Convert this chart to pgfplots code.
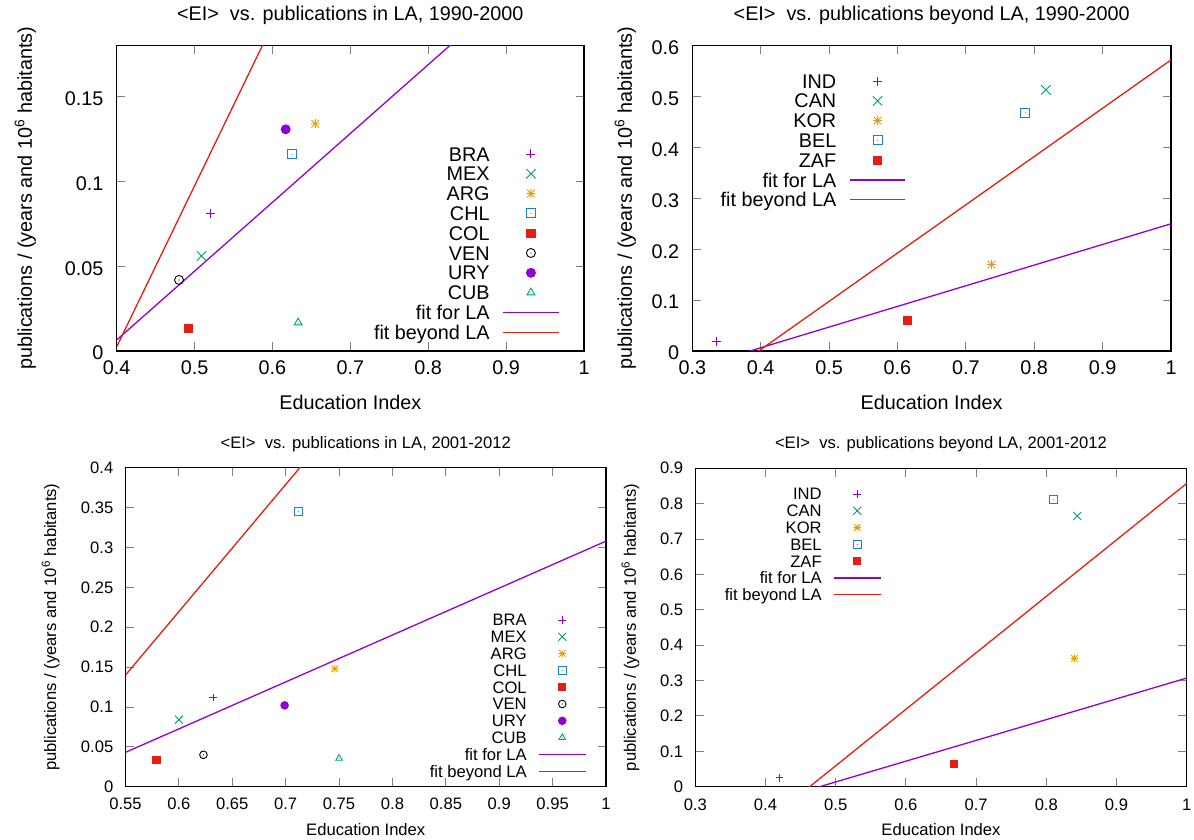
\documentclass[border=0pt]{standalone}
\usepackage{fontspec}
\setmainfont{Liberation Sans}
\usepackage{pgfplots}
\pgfplotsset{compat=1.18}

\definecolor{gpPurple}{HTML}{9400D3}
\definecolor{gpGreen}{HTML}{009E73}
\definecolor{gpOrange}{HTML}{E69F00}
\definecolor{gpBlue}{HTML}{1F7FC4}
\definecolor{gpRed}{HTML}{E51E10}

\newcommand\Ftop{\fontsize{19.8bp}{22bp}\selectfont}
\newcommand\Fbot{\fontsize{16.6bp}{19bp}\selectfont}
% re-synchronise the driver's colour state with the real one
\newcommand\colreset{\begingroup\color{gpRed}\endgroup\begingroup\color{black}\endgroup}

\pgfdeclareplotmark{dsquare}{%
  \pgfpathrectangle{\pgfqpoint{-\pgfplotmarksize}{-\pgfplotmarksize}}{\pgfqpoint{2\pgfplotmarksize}{2\pgfplotmarksize}}%
  \pgfusepathqstroke
  \pgfpathcircle{\pgfpointorigin}{0.6bp}%
  \pgfusepathqfill}
\pgfdeclareplotmark{dcircle}{%
  \pgfpathcircle{\pgfpointorigin}{\pgfplotmarksize}%
  \pgfusepathqstroke
  \pgfpathcircle{\pgfpointorigin}{0.6bp}%
  \pgfusepathqfill}
\pgfdeclareplotmark{dtriangle}{%
  \pgfpathmoveto{\pgfqpoint{0pt}{\pgfplotmarksize}}%
  \pgfpathlineto{\pgfqpoint{-.866\pgfplotmarksize}{-.5\pgfplotmarksize}}%
  \pgfpathlineto{\pgfqpoint{.866\pgfplotmarksize}{-.5\pgfplotmarksize}}%
  \pgfpathclose
  \pgfusepathqstroke
  \pgfpathcircle{\pgfqpoint{0pt}{-.1\pgfplotmarksize}}{0.6bp}%
  \pgfusepathqfill}
\pgfdeclareplotmark{gpx}{%
  \pgfpathmoveto{\pgfqpoint{-1.05\pgfplotmarksize}{-1.05\pgfplotmarksize}}\pgfpathlineto{\pgfqpoint{1.05\pgfplotmarksize}{1.05\pgfplotmarksize}}%
  \pgfpathmoveto{\pgfqpoint{-1.05\pgfplotmarksize}{1.05\pgfplotmarksize}}\pgfpathlineto{\pgfqpoint{1.05\pgfplotmarksize}{-1.05\pgfplotmarksize}}%
  \pgfusepathqstroke}
\pgfdeclareplotmark{gpstar}{%
  \pgfpathmoveto{\pgfqpoint{-\pgfplotmarksize}{0pt}}\pgfpathlineto{\pgfqpoint{\pgfplotmarksize}{0pt}}%
  \pgfpathmoveto{\pgfqpoint{0pt}{-\pgfplotmarksize}}\pgfpathlineto{\pgfqpoint{0pt}{\pgfplotmarksize}}%
  \pgfpathmoveto{\pgfqpoint{-.85\pgfplotmarksize}{-.85\pgfplotmarksize}}\pgfpathlineto{\pgfqpoint{.85\pgfplotmarksize}{.85\pgfplotmarksize}}%
  \pgfpathmoveto{\pgfqpoint{-.85\pgfplotmarksize}{.85\pgfplotmarksize}}\pgfpathlineto{\pgfqpoint{.85\pgfplotmarksize}{-.85\pgfplotmarksize}}%
  \pgfusepathqstroke}

\pgfplotsset{
  gpbase/.style={
    scale only axis,
    axis line style={line width=1.2bp},
    tick style={line width=0.9bp},
    tick align=inside,
    major tick length=8.5bp,
    scaled ticks=false,
    /pgf/number format/fixed,
    /pgf/number format/precision=2,
    /pgf/number format/assume math mode=true,
    legend plot pos=right,
    legend cell align=right,
  },
  gptop/.style={gpbase,
    xticklabel style={font=\Ftop, anchor=base, inner sep=0pt, yshift=-23.3bp},
    yticklabel style={font=\Ftop, anchor=east, inner sep=0pt, xshift=-13bp, yshift=-2bp},
    title style={font=\Ftop, anchor=base, at={(axis description cs:0.5,1.0645)}},
    xlabel style={font=\Ftop, anchor=base, at={(axis description cs:0.5,-0.191)}},
    legend style={font=\Ftop, draw=none, fill=none, inner sep=0pt, outer sep=0pt,
      anchor=north east, column sep=13bp,
      nodes={inner sep=0pt, outer sep=0pt, text height=17bp, text depth=2.8bp}},
    legend image code/.code={\draw[mark repeat=2,mark phase=2,##1] plot coordinates {(0bp,0bp) (27.7bp,0bp) (55.4bp,0bp)};},
    mark size=4.5bp,
  },
  gpbot/.style={gpbase,
    xticklabel style={font=\Fbot, anchor=base, inner sep=0pt, yshift=-23.3bp},
    yticklabel style={font=\Fbot, anchor=east, inner sep=0pt, xshift=-12bp},
    title style={font=\Fbot, anchor=base, at={(axis description cs:0.5,1.0433)}},
    xlabel style={font=\Fbot, anchor=base, at={(axis description cs:0.5,-0.1537)}},
    legend style={font=\Fbot, draw=none, fill=none, inner sep=0pt, outer sep=0pt,
      anchor=north east, column sep=11.2bp,
      nodes={inner sep=0pt, outer sep=0pt, text height=14.35bp, text depth=2.45bp}},
    legend image code/.code={\draw[mark repeat=2,mark phase=2,##1] plot coordinates {(0bp,0bp) (23.75bp,0bp) (47.5bp,0bp)};},
    mark size=3.8bp,
  },
  pA/.style={only marks, mark=+, line width=0.9bp, draw=gpPurple, fill=gpPurple},
  pB/.style={only marks, mark=gpx, line width=0.9bp, draw=gpGreen, fill=gpGreen},
  pC/.style={only marks, mark=gpstar, line width=0.9bp, draw=gpOrange, fill=gpOrange},
  pD/.style={only marks, mark=dsquare, line width=0.9bp, draw=gpBlue, fill=gpBlue},
  pE/.style={only marks, mark=square*, line width=0.9bp, draw=gpRed, fill=gpRed, mark options={scale=0.93}},
  pF/.style={only marks, mark=dcircle, line width=0.9bp, draw=black, fill=black},
  pG/.style={only marks, mark=*, line width=0.9bp, draw=gpPurple, fill=gpPurple},
  pH/.style={only marks, mark=dtriangle, line width=0.9bp, draw=gpGreen, fill=gpGreen},
  fitLA/.style={no marks, line width=1.3bp, draw=gpPurple},
  fitBE/.style={no marks, line width=1.3bp, draw=gpRed},
}

\newcommand\ylab{publications / (years and 10\textsuperscript{6} habitants)}

\begin{document}
\begin{tikzpicture}
\useasboundingbox (0,0) rectangle (1194bp,840bp);

% ---------- top left ----------
\colreset
\begin{axis}[gptop,
  at={(116.7bp,489bp)}, anchor=south west,
  width=467.3bp, height=305.3bp,
  xmin=0.4, xmax=1, ymin=0, ymax=0.18,
  xtick={0.4,0.5,0.6,0.7,0.8,0.9,1},
  ytick={0,0.05,0.1,0.15},
  title={<EI>\ \ vs. publications in LA, 1990-2000},
  xlabel={Education Index},
  ylabel={\ylab},
  ylabel style={font=\Ftop, anchor=base, at={(axis description cs:-0.1817,0.5)}},
  legend style={at={(0.9471,0.6777)}},
]
\addplot[pA] coordinates {(0.521,0.081)}; \addlegendentry{BRA}
\addplot[pB] coordinates {(0.509,0.056)}; \addlegendentry{MEX}
\addplot[pC] coordinates {(0.655,0.134)}; \addlegendentry{ARG}
\addplot[pD] coordinates {(0.625,0.116)}; \addlegendentry{CHL}
\addplot[pE] coordinates {(0.492,0.0134)}; \addlegendentry{COL}
\addplot[pF] coordinates {(0.480,0.0419)}; \addlegendentry{VEN}
\addplot[pG] coordinates {(0.617,0.1307)}; \addlegendentry{URY}
\addplot[pH] coordinates {(0.633,0.0167)}; \addlegendentry{CUB}
\addplot[fitLA] coordinates {(0.4,0.0065) (1,0.25)}; \addlegendentry{fit for LA}
\addplot[fitBE] coordinates {(0.4,0.0025) (1,0.572)}; \addlegendentry{fit beyond LA}
\end{axis}

% ---------- top right ----------
\colreset
\begin{axis}[gptop,
  at={(692.3bp,489bp)}, anchor=south west,
  width=478.7bp, height=305.3bp,
  xmin=0.3, xmax=1, ymin=0, ymax=0.6,
  xtick={0.3,0.4,0.5,0.6,0.7,0.8,0.9,1},
  ytick={0,0.1,0.2,0.3,0.4,0.5,0.6},
  title={<EI>\ \ vs. publications beyond LA, 1990-2000},
  xlabel={Education Index},
  ylabel={\ylab},
  ylabel style={font=\Ftop, anchor=base, at={(axis description cs:-0.1264,0.5)}},
  legend style={at={(0.4464,0.9168)}},
]
\addplot[pA] coordinates {(0.335,0.0196)}; \addlegendentry{IND}
\addplot[pB] coordinates {(0.817,0.513)}; \addlegendentry{CAN}
\addplot[pC] coordinates {(0.7375,0.170)}; \addlegendentry{KOR}
\addplot[pD] coordinates {(0.787,0.468)}; \addlegendentry{BEL}
\addplot[pE] coordinates {(0.615,0.060)}; \addlegendentry{ZAF}
\addplot[fitLA] coordinates {(0.3,-0.0342) (1,0.25)}; \addlegendentry{fit for LA}
\addplot[fitBE] coordinates {(0.3,-0.0922) (1,0.572)}; \addlegendentry{fit beyond LA}
\end{axis}

% ---------- bottom left ----------
\colreset
\begin{axis}[gpbot,
  at={(125.5bp,53.3bp)}, anchor=south west,
  width=480.5bp, height=318.9bp,
  xmin=0.55, xmax=1, ymin=0, ymax=0.4,
  xtick={0.55,0.6,0.65,0.7,0.75,0.8,0.85,0.9,0.95,1},
  ytick={0,0.05,0.1,0.15,0.2,0.25,0.3,0.35,0.4},
  title={<EI>\ \ vs. publications in LA, 2001-2012},
  xlabel={Education Index},
  ylabel={\ylab},
  ylabel style={font=\Fbot, anchor=base, at={(axis description cs:-0.1446,0.5)}},
  legend style={at={(0.9598,0.549)}},
]
\addplot[pA] coordinates {(0.632,0.112)}; \addlegendentry{BRA}
\addplot[pB] coordinates {(0.600,0.084)}; \addlegendentry{MEX}
\addplot[pC] coordinates {(0.746,0.148)}; \addlegendentry{ARG}
\addplot[pD] coordinates {(0.712,0.3455)}; \addlegendentry{CHL}
\addplot[pE] coordinates {(0.579,0.0335)}; \addlegendentry{COL}
\addplot[pF] coordinates {(0.623,0.040)}; \addlegendentry{VEN}
\addplot[pG] coordinates {(0.699,0.102)}; \addlegendentry{URY}
\addplot[pH] coordinates {(0.750,0.0356)}; \addlegendentry{CUB}
\addplot[fitLA] coordinates {(0.55,0.0431) (1,0.308)}; \addlegendentry{fit for LA}
\addplot[fitBE] coordinates {(0.55,0.140) (1,0.857)}; \addlegendentry{fit beyond LA}
\end{axis}

% ---------- bottom right ----------
\colreset
\begin{axis}[gpbot,
  at={(695.3bp,53.3bp)}, anchor=south west,
  width=491.4bp, height=318.5bp,
  xmin=0.3, xmax=1, ymin=0, ymax=0.9,
  xtick={0.3,0.4,0.5,0.6,0.7,0.8,0.9,1},
  ytick={0,0.1,0.2,0.3,0.4,0.5,0.6,0.7,0.8,0.9},
  title={<EI>\ \ vs. publications beyond LA, 2001-2012},
  xlabel={Education Index},
  ylabel={\ylab},
  ylabel style={font=\Fbot, anchor=base, at={(axis description cs:-0.1207,0.5)}},
  legend style={at={(0.3793,0.9454)}},
]
\addplot[pA] coordinates {(0.420,0.0254)}; \addlegendentry{IND}
\addplot[pB] coordinates {(0.844,0.765)}; \addlegendentry{CAN}
\addplot[pC] coordinates {(0.840,0.3627)}; \addlegendentry{KOR}
\addplot[pD] coordinates {(0.810,0.811)}; \addlegendentry{BEL}
\addplot[pE] coordinates {(0.668,0.065)}; \addlegendentry{ZAF}
\addplot[fitLA] coordinates {(0.3,-0.104) (1,0.307)}; \addlegendentry{fit for LA}
\addplot[fitBE] coordinates {(0.3,-0.26) (1,0.857)}; \addlegendentry{fit beyond LA}
\end{axis}
\end{tikzpicture}
\end{document}
